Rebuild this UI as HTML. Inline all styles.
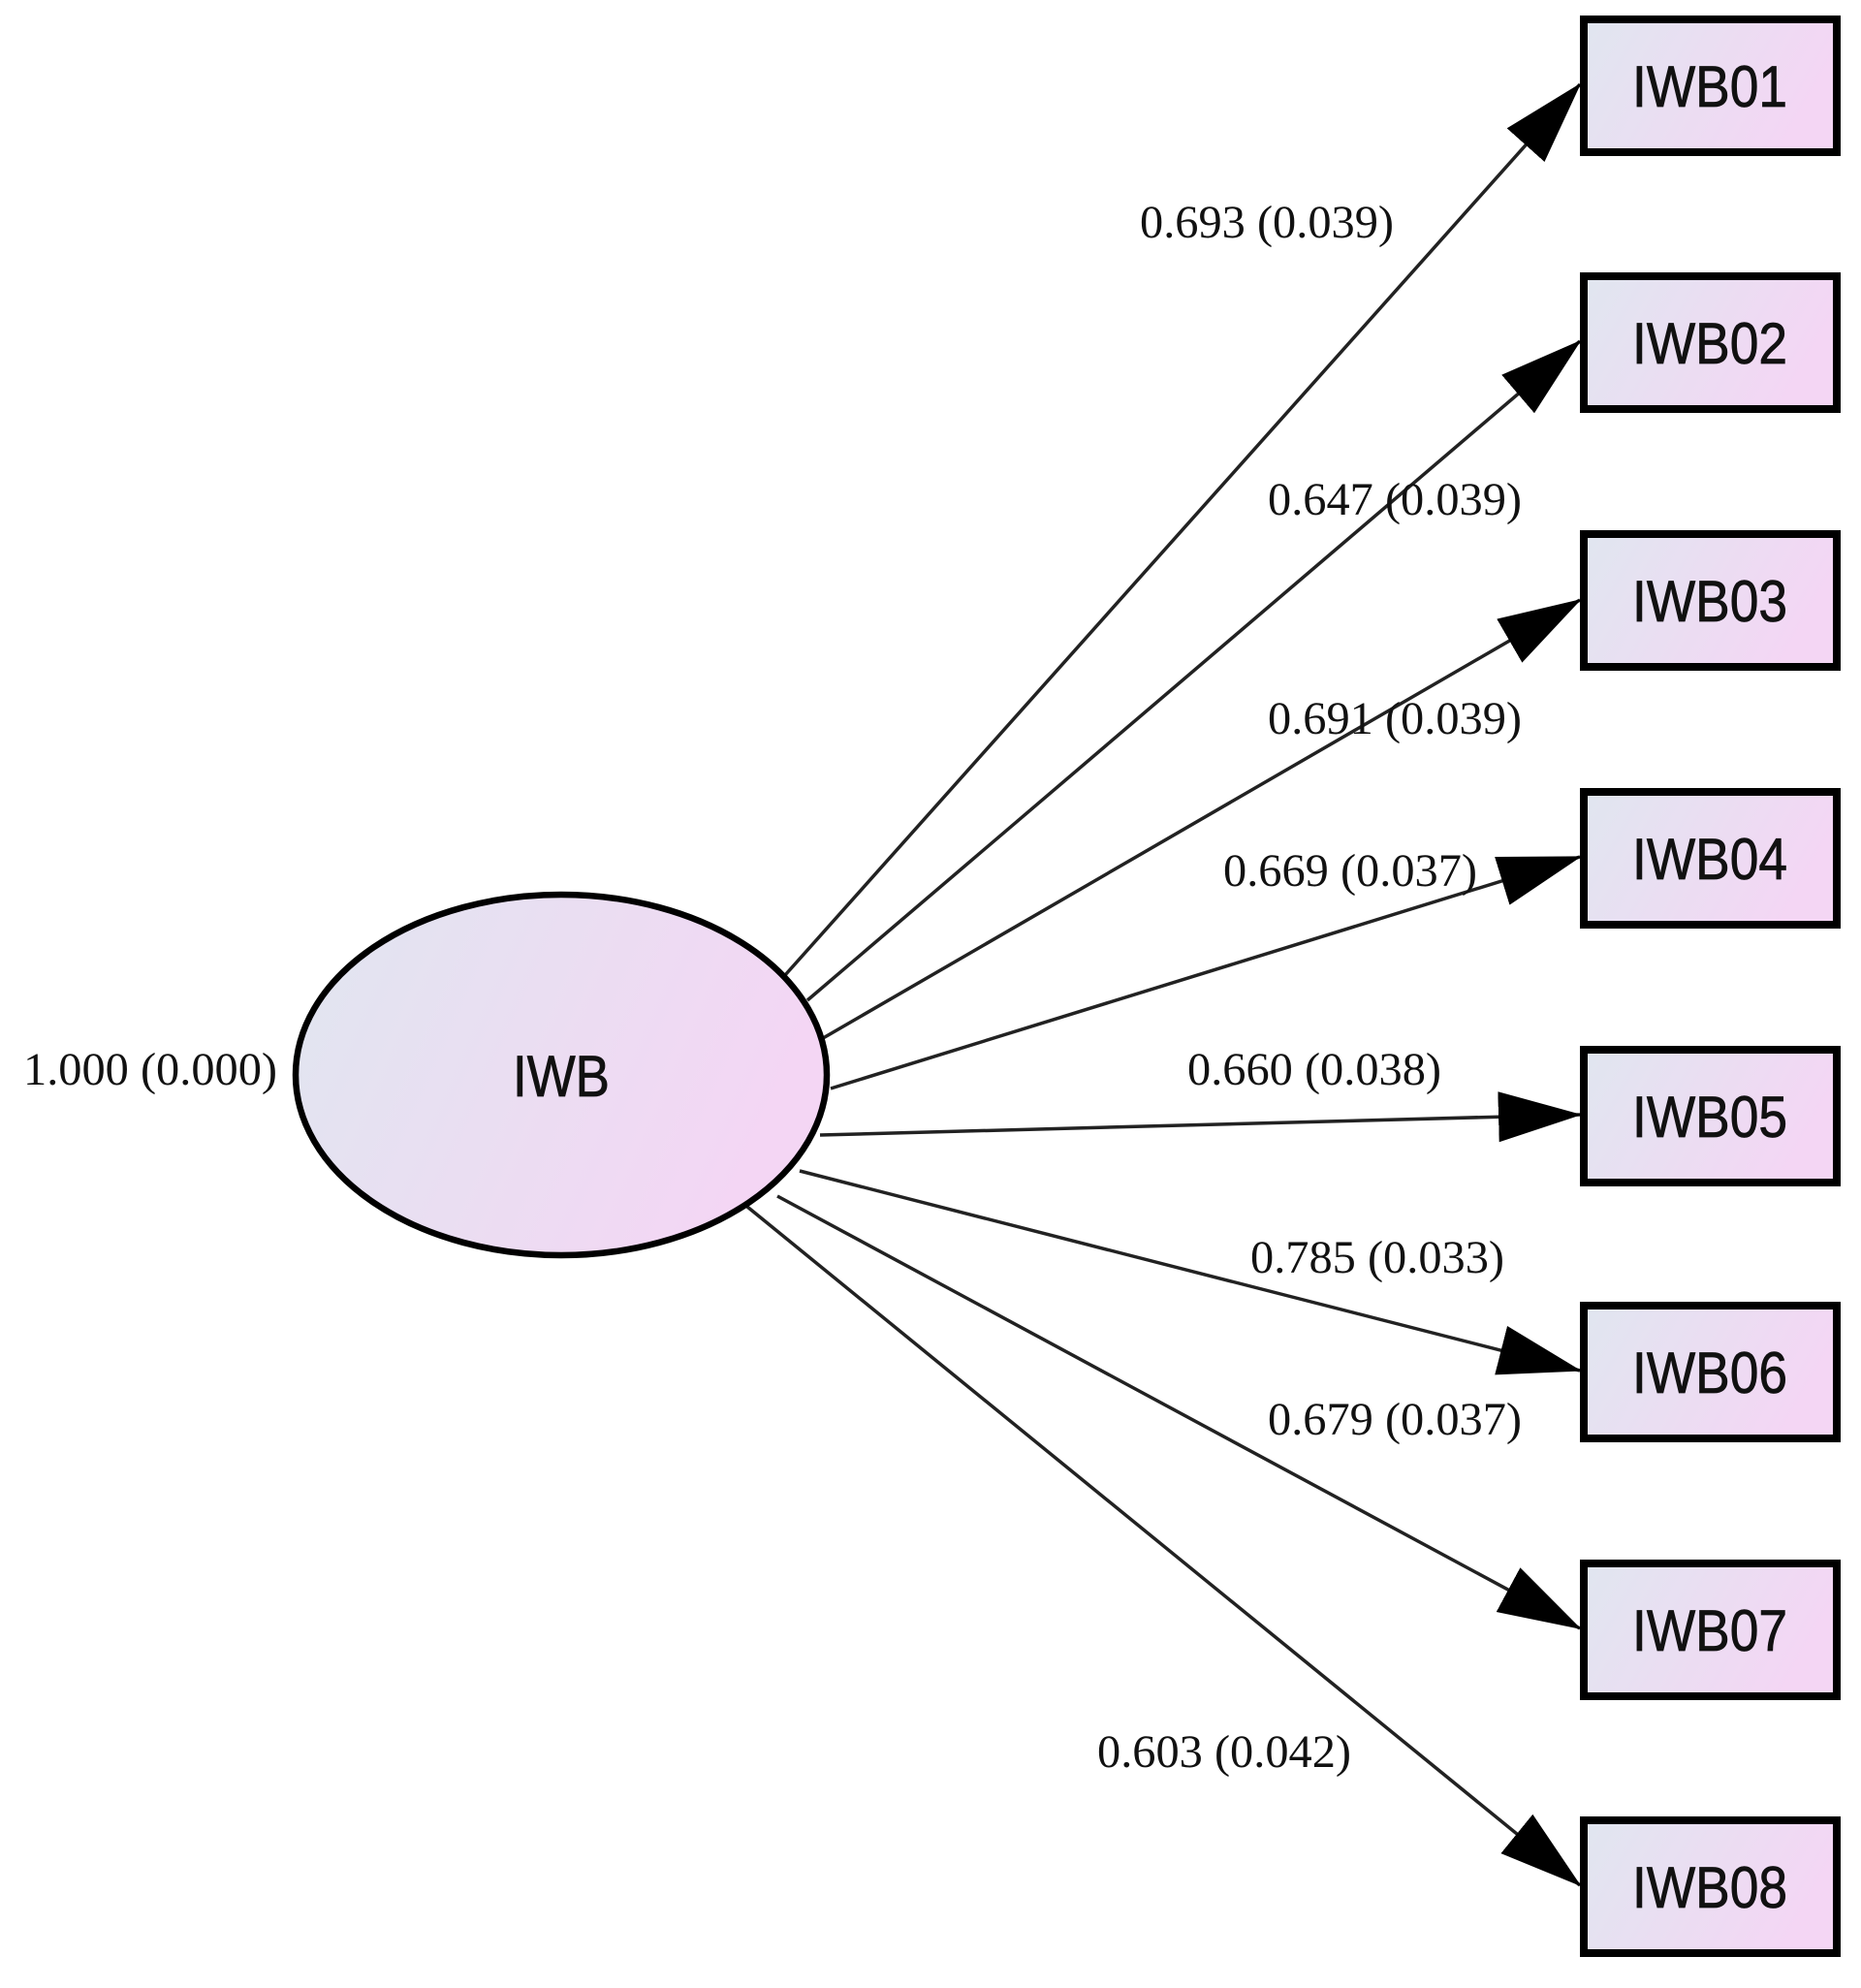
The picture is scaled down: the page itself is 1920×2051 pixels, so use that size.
<!DOCTYPE html>
<html><head><meta charset="utf-8"><style>
html,body{margin:0;padding:0;background:#fff}
svg{display:block}
</style></head><body>
<svg width="1920" height="2051" viewBox="0 0 1920 2051" xmlns="http://www.w3.org/2000/svg">
<defs>
<linearGradient id="g" x1="0" y1="0" x2="1" y2="0.3">
<stop offset="0" stop-color="#e0e6f0"/><stop offset="1" stop-color="#f4d6f4"/>
</linearGradient>
<marker id="a" markerUnits="userSpaceOnUse" markerWidth="90" markerHeight="56" refX="84" refY="26" orient="auto">
<path d="M0,0 L86,26 L0,52 Z" fill="#000"/>
</marker>
</defs>
<g stroke="#222" stroke-width="3.5" marker-end="url(#a)">
<line x1="810" y1="1006" x2="1630" y2="87"/>
<line x1="833" y1="1032" x2="1630" y2="352"/>
<line x1="844" y1="1074" x2="1630" y2="619"/>
<line x1="857" y1="1123" x2="1630" y2="884"/>
<line x1="846" y1="1171" x2="1630" y2="1150"/>
<line x1="825" y1="1208" x2="1630" y2="1414"/>
<line x1="802" y1="1234" x2="1630" y2="1680"/>
<line x1="771" y1="1245" x2="1630" y2="1945"/>
</g>
<ellipse cx="579" cy="1109" rx="274" ry="186" fill="url(#g)" stroke="#000" stroke-width="6.5"/>
<g fill="url(#g)" stroke="#000" stroke-width="8">
<rect x="1634" y="20" width="261" height="137"/>
<rect x="1634" y="285" width="261" height="137"/>
<rect x="1634" y="551" width="261" height="137"/>
<rect x="1634" y="817" width="261" height="137"/>
<rect x="1634" y="1083" width="261" height="137"/>
<rect x="1634" y="1347" width="261" height="137"/>
<rect x="1634" y="1613" width="261" height="137"/>
<rect x="1634" y="1878" width="261" height="137"/>
</g>
<g font-family="Liberation Sans, sans-serif" font-size="60" fill="#111" text-anchor="middle" stroke="#111" stroke-width="0.8">
<text x="579" y="1131" textLength="100" lengthAdjust="spacingAndGlyphs">IWB</text>
<text x="1764" y="110" textLength="160" lengthAdjust="spacingAndGlyphs">IWB01</text>
<text x="1764" y="375" textLength="160" lengthAdjust="spacingAndGlyphs">IWB02</text>
<text x="1764" y="641" textLength="160" lengthAdjust="spacingAndGlyphs">IWB03</text>
<text x="1764" y="907" textLength="160" lengthAdjust="spacingAndGlyphs">IWB04</text>
<text x="1764" y="1173" textLength="160" lengthAdjust="spacingAndGlyphs">IWB05</text>
<text x="1764" y="1437" textLength="160" lengthAdjust="spacingAndGlyphs">IWB06</text>
<text x="1764" y="1703" textLength="160" lengthAdjust="spacingAndGlyphs">IWB07</text>
<text x="1764" y="1968" textLength="160" lengthAdjust="spacingAndGlyphs">IWB08</text>
</g>
<g font-family="Liberation Serif, serif" font-size="48" fill="#111" text-anchor="middle">
<text x="1307" y="245" textLength="262" lengthAdjust="spacingAndGlyphs">0.693 (0.039)</text>
<text x="1439" y="531" textLength="262" lengthAdjust="spacingAndGlyphs">0.647 (0.039)</text>
<text x="1439" y="757" textLength="262" lengthAdjust="spacingAndGlyphs">0.691 (0.039)</text>
<text x="1393" y="914" textLength="262" lengthAdjust="spacingAndGlyphs">0.669 (0.037)</text>
<text x="1356" y="1119" textLength="262" lengthAdjust="spacingAndGlyphs">0.660 (0.038)</text>
<text x="1421" y="1313" textLength="262" lengthAdjust="spacingAndGlyphs">0.785 (0.033)</text>
<text x="1439" y="1480" textLength="262" lengthAdjust="spacingAndGlyphs">0.679 (0.037)</text>
<text x="1263" y="1823" textLength="262" lengthAdjust="spacingAndGlyphs">0.603 (0.042)</text>
<text x="155" y="1119" textLength="262" lengthAdjust="spacingAndGlyphs">1.000 (0.000)</text>
</g>
</svg>
</body></html>
